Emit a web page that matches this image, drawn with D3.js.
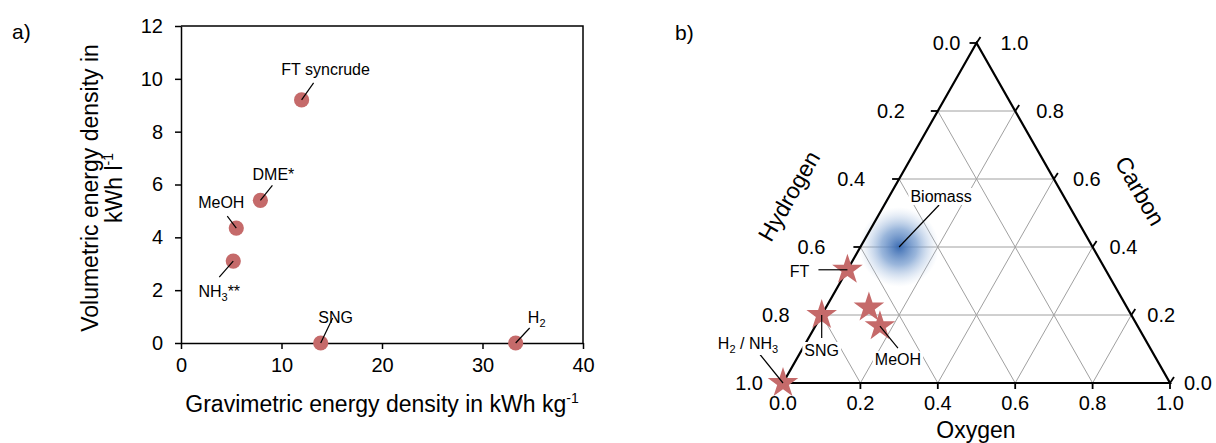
<!DOCTYPE html>
<html>
<head>
<meta charset="utf-8">
<script src="https://cdn.jsdelivr.net/npm/d3@7"></script>
<style>
  body { margin: 0; background: #fff; }
  svg { font-family: "Liberation Sans", Arial, sans-serif; }
  .axis text { font-size: 20px; fill: #000; }
  .axis path, .axis line { stroke: #000; stroke-width: 1.5px; }
</style>
</head>
<body>
<div id="content"></div>
<script>
// a) energy densities
var fuels = ["FT syncrude", "DME*", "MeOH", "NH3**", "SNG", "H2"];
var gravimetric = [12.0, 7.9, 5.5, 5.2, 13.9, 33.3];   // kWh/kg
var volumetric = [9.2, 5.4, 4.35, 3.1, 0, 0];          // kWh/l
var xTicks = [0, 10, 20, 30, 40];
var yTicks = [0, 2, 4, 6, 8, 10, 12];

// b) ternary diagram, molar fractions
var ternNames = ["FT", "SNG", "H2 / NH3", "DME", "MeOH"];
var ternOxygen = [0, 0, 0, 0.111, 0.167];
var ternCarbon = [0.333, 0.2, 0, 0.222, 0.167];
var biomassOxygen = 0.1, biomassCarbon = 0.4;
var ternTicks = [0, 0.2, 0.4, 0.6, 0.8, 1.0];

var red = "#c56a6a";

var svg = d3.select("#content").append("svg").attr("width", 1216).attr("height", 443);

// ---------- panel a ----------
var x = d3.scaleLinear().domain([0, 40]).range([181, 583]),
    y = d3.scaleLinear().domain([0, 12]).range([343, 26]);

svg.append("text").attr("x", 12).attr("y", 39).style("font-size", "21px").text("a)");

svg.append("g")
    .attr("class", "axis")
    .attr("transform", "translate(0,343)")
    .call(d3.axisBottom(x).tickValues(xTicks).tickSize(6).tickSizeOuter(0).tickPadding(9));

svg.append("g")
    .attr("class", "axis")
    .attr("transform", "translate(181,0)")
    .call(d3.axisLeft(y).tickValues(yTicks).tickSize(6).tickSizeOuter(0).tickPadding(12));

// frame top / right
svg.append("path")
    .attr("d", "M" + x(0) + "," + y(12) + "H" + x(40) + "V" + y(0))
    .attr("fill", "none").attr("stroke", "#000").attr("stroke-width", 1.5);

// axis titles
var xt = svg.append("text").attr("x", 382).attr("y", 412).attr("text-anchor", "middle")
    .style("font-size", "23px").text("Gravimetric energy density in kWh kg");
xt.append("tspan").attr("dy", -9).style("font-size", "14px").text("-1");

var yt = svg.append("g").attr("transform", "translate(98,188) rotate(-90)");
yt.append("text").attr("text-anchor", "middle").style("font-size", "23px").text("Volumetric energy density in");
var yt2 = yt.append("text").attr("y", 24).attr("text-anchor", "middle").style("font-size", "23px").text("kWh l");
yt2.append("tspan").attr("dy", -9).style("font-size", "14px").text("-1");

// label offsets relative to the point: text (tx, ty) and leader end (lx, ly)
var aLabels = [
    {tx: 24, ty: -25, lx: 12, ly: -17},
    {tx: 13, ty: -20, lx: 12, ly: -15},
    {tx: -15, ty: -20, lx: -9, ly: -12},
    {tx: -14, ty: 36, lx: -14, ly: 16},
    {tx: 15, ty: -20, lx: 12, ly: -25},
    {tx: 21, ty: -20, lx: 14, ly: -15}
];

var pts = fuels.map(function(n, i) { return {name: n, x: x(gravimetric[i]), y: y(volumetric[i]), lab: aLabels[i]}; });

svg.selectAll(".pt").data(pts).enter().append("circle")
    .attr("class", "pt")
    .attr("cx", function(d) { return d.x; })
    .attr("cy", function(d) { return d.y; })
    .attr("r", 7.6)
    .attr("fill", red);

svg.selectAll(".lead").data(pts).enter().append("line")
    .attr("class", "lead")
    .attr("x1", function(d) { return d.x; })
    .attr("y1", function(d) { return d.y; })
    .attr("x2", function(d) { return d.x + d.lab.lx; })
    .attr("y2", function(d) { return d.y + d.lab.ly; })
    .attr("stroke", "#000").attr("stroke-width", 1.2);

// text with subscripts: "NH3**" -> NH + sub 3 + **
function chemText(sel, name) {
    var m = name.match(/^([A-Za-z]*?)(\d)(.*)$/);
    if (name.indexOf("syncrude") >= 0 || !m) { sel.text(name); return; }
    sel.append("tspan").text(m[1]);
    sel.append("tspan").attr("dy", 4).style("font-size", "11px").text(m[2]);
    if (m[3]) sel.append("tspan").attr("dy", -4).text(m[3]);
}

pts.forEach(function(d) {
    var t = svg.append("text")
        .attr("x", d.x + d.lab.tx)
        .attr("y", d.y + d.lab.ty)
        .attr("text-anchor", "middle")
        .style("font-size", "16px");
    chemText(t, d.name);
});

// ---------- panel b ----------
var xO = d3.scaleLinear().domain([0, 1]).range([783, 1170]),
    yC = d3.scaleLinear().domain([0, 1]).range([383, 43]);
function tern(o, c) { return [xO(o + c / 2), yC(c)]; }

svg.append("text").attr("x", 675).attr("y", 40).style("font-size", "21px").text("b)");

var grid = svg.append("g").attr("stroke", "#a0a0a0").attr("stroke-width", 1);
[0.2, 0.4, 0.6, 0.8].forEach(function(k) {
    var a, b;
    a = tern(0, k); b = tern(1 - k, k);          // carbon
    grid.append("line").attr("x1", a[0]).attr("y1", a[1]).attr("x2", b[0]).attr("y2", b[1]);
    a = tern(k, 0); b = tern(k, 1 - k);          // oxygen
    grid.append("line").attr("x1", a[0]).attr("y1", a[1]).attr("x2", b[0]).attr("y2", b[1]);
    a = tern(0, 1 - k); b = tern(1 - k, 0);      // hydrogen
    grid.append("line").attr("x1", a[0]).attr("y1", a[1]).attr("x2", b[0]).attr("y2", b[1]);
});

// biomass blob
var grad = svg.append("defs").append("radialGradient").attr("id", "blob");
grad.append("stop").attr("offset", "0%").attr("stop-color", "#3d6db3").attr("stop-opacity", 1);
grad.append("stop").attr("offset", "45%").attr("stop-color", "#6f97cc").attr("stop-opacity", 0.7);
grad.append("stop").attr("offset", "100%").attr("stop-color", "#b8cce6").attr("stop-opacity", 0);
var bio = tern(biomassOxygen, biomassCarbon);
svg.append("circle").attr("cx", bio[0]).attr("cy", bio[1]).attr("r", 40).attr("fill", "url(#blob)");

// triangle
var A = tern(0, 1), B = tern(0, 0), C = tern(1, 0);
svg.append("path")
    .attr("d", "M" + A + "L" + B + "L" + C + "Z")
    .attr("fill", "none").attr("stroke", "#000").attr("stroke-width", 2.2).attr("stroke-linejoin", "miter");

// ticks and tick labels
var tk = svg.append("g").attr("stroke", "#000").attr("stroke-width", 1.8);
var tl = svg.append("g").style("font-size", "20px");
var leftGap = [16, 33, 34, 35, 32, 20];
var rightGap = [14, 16, 17, 19, 21, 24];
ternTicks.forEach(function(v, i) {
    // hydrogen, left edge
    var p = tern(0, 1 - v);
    tk.append("line").attr("x1", p[0]).attr("y1", p[1]).attr("x2", p[0] - 7).attr("y2", p[1]);
    tl.append("text").attr("x", p[0] - leftGap[i]).attr("y", p[1]).attr("dy", "0.35em")
        .attr("text-anchor", "end").text(v.toFixed(1));
    // carbon, right edge
    p = tern(1 - v, v);
    tk.append("line").attr("x1", p[0]).attr("y1", p[1]).attr("x2", p[0] + 4).attr("y2", p[1] - 6);
    tl.append("text").attr("x", p[0] + rightGap[i]).attr("y", p[1]).attr("dy", "0.35em")
        .attr("text-anchor", "start").text(v.toFixed(1));
    // oxygen, bottom
    p = tern(v, 0);
    tk.append("line").attr("x1", p[0]).attr("y1", p[1]).attr("x2", p[0]).attr("y2", p[1] + 6);
    tl.append("text").attr("x", p[0]).attr("y", p[1] + 27)
        .attr("text-anchor", "middle").text(v.toFixed(1));
});

// axis titles
svg.append("text").attr("transform", "translate(796,200) rotate(-60)")
    .attr("text-anchor", "middle").style("font-size", "23px").text("Hydrogen");
svg.append("text").attr("transform", "translate(1133,195) rotate(60)")
    .attr("text-anchor", "middle").style("font-size", "23px").text("Carbon");
svg.append("text").attr("x", 976).attr("y", 438)
    .attr("text-anchor", "middle").style("font-size", "23px").text("Oxygen");

// stars
var stars = ternNames.map(function(n, i) {
    var p = tern(ternOxygen[i], ternCarbon[i]);
    return {name: n, x: p[0], y: p[1]};
});
svg.selectAll(".star").data(stars).enter().append("path")
    .attr("class", "star")
    .attr("transform", function(d) { return "translate(" + d.x + "," + d.y + ")"; })
    .attr("d", d3.symbol().type(d3.symbolStar).size(290))
    .attr("fill", red);

// labels in the ternary: text position and leader end relative to marker
var bLabels = [
    {name: "Biomass", x: bio[0], y: bio[1], tx: 42, ty: -45, lx: 40, ly: -42},
    {name: "FT", x: stars[0].x, y: stars[0].y, tx: -48, ty: 7, lx: -29, ly: 0},
    {name: "SNG", x: stars[1].x, y: stars[1].y, tx: 0, ty: 41, lx: 0, ly: 23},
    {name: "H2 / NH3", x: stars[2].x, y: stars[2].y, tx: -35, ty: -34, lx: -25, ly: -31},
    {name: "MeOH", x: stars[4].x, y: stars[4].y, tx: 18, ty: 39, lx: 18, ly: 22}
];

svg.selectAll(".blead").data(bLabels).enter().append("line")
    .attr("class", "blead")
    .attr("x1", function(d) { return d.x; })
    .attr("y1", function(d) { return d.y; })
    .attr("x2", function(d) { return d.x + d.lx; })
    .attr("y2", function(d) { return d.y + d.ly; })
    .attr("stroke", "#000").attr("stroke-width", 1.2);

bLabels.forEach(function(d) {
    var g = svg.append("g");
    var t = g.append("text")
        .attr("x", d.x + d.tx)
        .attr("y", d.y + d.ty)
        .attr("text-anchor", "middle")
        .style("font-size", "16px");
    if (d.name === "H2 / NH3") {
        t.append("tspan").text("H");
        t.append("tspan").attr("dy", 4).style("font-size", "11px").text("2");
        t.append("tspan").attr("dy", -4).text(" / NH");
        t.append("tspan").attr("dy", 4).style("font-size", "11px").text("3");
    } else {
        t.text(d.name);
    }
    var bb = t.node().getBBox();
    if (d.name !== "FT") {
        g.insert("rect", "text")
            .attr("x", bb.x - 2).attr("y", bb.y)
            .attr("width", bb.width + 4).attr("height", bb.height)
            .attr("fill", "#fff");
    }
});
</script>
</body>
</html>
